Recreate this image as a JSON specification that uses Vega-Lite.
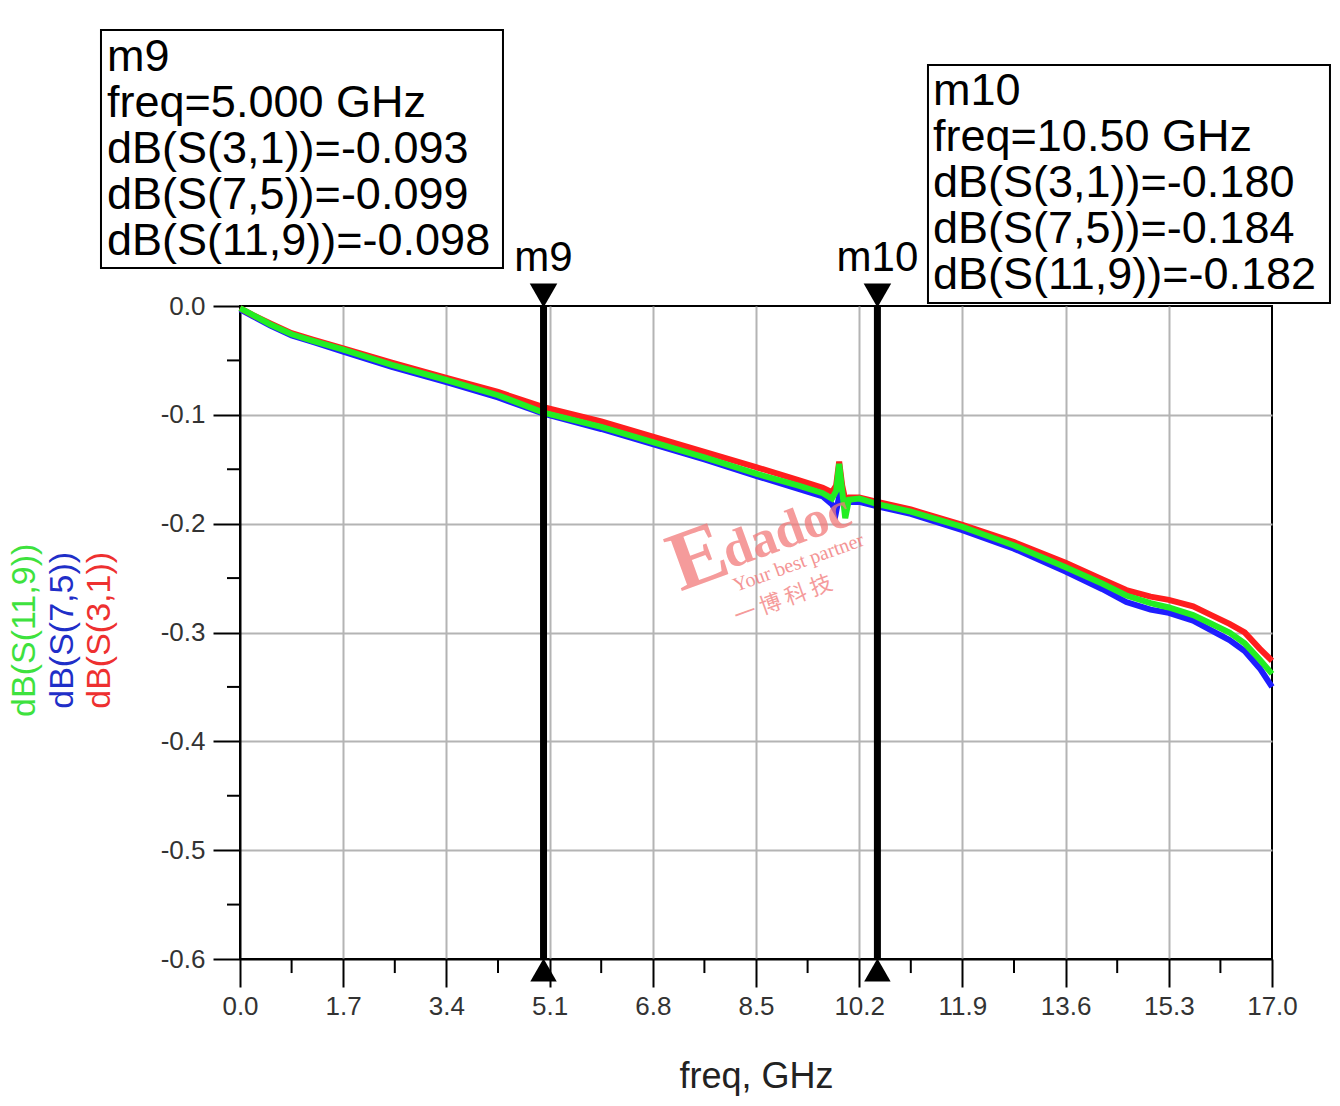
{
  "$schema": "https://vega.github.io/schema/vega-lite/v6.json",
  "description": "dB(S(3,1)), dB(S(7,5)), dB(S(11,9)) against freq, with markers m9 and m10",
  "autosize": "none",
  "width": 1032,
  "height": 653,
  "padding": {"left": 240, "top": 306, "right": 68, "bottom": 147},
  "background": "white",
  "config": {
    "font": "Liberation Sans",
    "view": {"stroke": "black", "strokeWidth": 2}
  },
  "datasets": {
    "traces": [
      {"freq": 0, "s31": -0.002, "s75": -0.003, "s119": -0.002},
      {"freq": 0.2, "s31": -0.008, "s75": -0.009, "s119": -0.008},
      {"freq": 0.5, "s31": -0.016, "s75": -0.018, "s119": -0.017},
      {"freq": 0.85, "s31": -0.025, "s75": -0.027, "s119": -0.026},
      {"freq": 1.2, "s31": -0.031, "s75": -0.033, "s119": -0.032},
      {"freq": 1.7, "s31": -0.039, "s75": -0.042, "s119": -0.040},
      {"freq": 2.5, "s31": -0.052, "s75": -0.056, "s119": -0.054},
      {"freq": 3.4, "s31": -0.066, "s75": -0.070, "s119": -0.068},
      {"freq": 4.25, "s31": -0.079, "s75": -0.084, "s119": -0.082},
      {"freq": 5.0, "s31": -0.093, "s75": -0.099, "s119": -0.098},
      {"freq": 5.95, "s31": -0.106, "s75": -0.113, "s119": -0.111},
      {"freq": 6.8, "s31": -0.120, "s75": -0.127, "s119": -0.125},
      {"freq": 7.65, "s31": -0.134, "s75": -0.141, "s119": -0.139},
      {"freq": 8.5, "s31": -0.148, "s75": -0.156, "s119": -0.154},
      {"freq": 9.2, "s31": -0.160, "s75": -0.168, "s119": -0.165},
      {"freq": 9.6, "s31": -0.167, "s75": -0.175, "s119": -0.172},
      {"freq": 9.75, "s31": -0.171, "s75": -0.182, "s119": -0.177},
      {"freq": 9.82, "s31": -0.165, "s75": -0.189, "s119": -0.170},
      {"freq": 9.87, "s31": -0.143, "s75": -0.175, "s119": -0.145},
      {"freq": 9.92, "s31": -0.165, "s75": -0.180, "s119": -0.170},
      {"freq": 9.97, "s31": -0.178, "s75": -0.182, "s119": -0.195},
      {"freq": 10.03, "s31": -0.176, "s75": -0.180, "s119": -0.178},
      {"freq": 10.2, "s31": -0.176, "s75": -0.180, "s119": -0.177},
      {"freq": 10.5, "s31": -0.180, "s75": -0.184, "s119": -0.182},
      {"freq": 11.05, "s31": -0.187, "s75": -0.191, "s119": -0.189},
      {"freq": 11.9, "s31": -0.201, "s75": -0.206, "s119": -0.203},
      {"freq": 12.75, "s31": -0.217, "s75": -0.223, "s119": -0.220},
      {"freq": 13.6, "s31": -0.236, "s75": -0.244, "s119": -0.240},
      {"freq": 14.2, "s31": -0.251, "s75": -0.260, "s119": -0.255},
      {"freq": 14.6, "s31": -0.261, "s75": -0.272, "s119": -0.266},
      {"freq": 15.0, "s31": -0.267, "s75": -0.279, "s119": -0.273},
      {"freq": 15.3, "s31": -0.270, "s75": -0.282, "s119": -0.277},
      {"freq": 15.7, "s31": -0.276, "s75": -0.289, "s119": -0.284},
      {"freq": 16.0, "s31": -0.284, "s75": -0.298, "s119": -0.292},
      {"freq": 16.3, "s31": -0.292, "s75": -0.307, "s119": -0.300},
      {"freq": 16.55, "s31": -0.300, "s75": -0.317, "s119": -0.310},
      {"freq": 16.8, "s31": -0.315, "s75": -0.333, "s119": -0.325},
      {"freq": 17.0, "s31": -0.326, "s75": -0.350, "s119": -0.338}
    ],
    "markers": [
      {"freq": 5.0, "name": "m9"},
      {"freq": 10.5, "name": "m10"}
    ],
    "minorX": [
      {"freq": 0.85}, {"freq": 2.55}, {"freq": 4.25}, {"freq": 5.95}, {"freq": 7.65},
      {"freq": 9.35}, {"freq": 11.05}, {"freq": 12.75}, {"freq": 14.45}, {"freq": 16.15}
    ],
    "minorY": [
      {"value": -0.05}, {"value": -0.15}, {"value": -0.25},
      {"value": -0.35}, {"value": -0.45}, {"value": -0.55}
    ]
  },
  "layer": [
    {
      "data": {"name": "traces"},
      "transform": [{"fold": ["s75", "s31", "s119"], "as": ["trace", "value"]}],
      "mark": {"type": "line", "strokeWidth": 6},
      "encoding": {
        "x": {
          "field": "freq",
          "type": "quantitative",
          "scale": {"domain": [0, 17], "nice": false, "zero": false},
          "axis": {
            "values": [0, 1.7, 3.4, 5.1, 6.8, 8.5, 10.2, 11.9, 13.6, 15.3, 17.0],
            "format": ".1f",
            "labelOverlap": false,
            "labelFontSize": 26,
            "labelColor": "#333333",
            "labelPadding": 6,
            "labelFlush": false,
            "tickColor": "black",
            "tickWidth": 2,
            "tickSize": 28,
            "domainColor": "black",
            "domainWidth": 2,
            "grid": true,
            "gridColor": "#b4b4b4",
            "gridWidth": 2,
            "gridOpacity": {"condition": {"test": "datum.value >= 16.99 || datum.value == 0", "value": 0}, "value": 1},
            "title": "freq, GHz",
            "titleFontSize": 36,
            "titleFontWeight": "normal",
            "titleColor": "#222222",
            "titlePadding": 40
          }
        },
        "y": {
          "field": "value",
          "type": "quantitative",
          "scale": {"domain": [-0.6, 0], "nice": false, "zero": false},
          "axis": {
            "values": [0, -0.1, -0.2, -0.3, -0.4, -0.5, -0.6],
            "labelExpr": "(datum.value < -0.001 ? '-' : '') + format(abs(datum.value), '.1f')",
            "labelOverlap": false,
            "labelFontSize": 26,
            "labelColor": "#333333",
            "labelPadding": 8,
            "labelFlush": false,
            "tickColor": "black",
            "tickWidth": 2,
            "tickSize": 27,
            "domainColor": "black",
            "domainWidth": 2,
            "grid": true,
            "gridColor": "#b4b4b4",
            "gridWidth": 2,
            "gridOpacity": {"condition": {"test": "datum.value == 0 || datum.value <= -0.599", "value": 0}, "value": 1},
            "title": null
          }
        },
        "color": {
          "field": "trace",
          "type": "nominal",
          "scale": {"domain": ["s31", "s75", "s119"], "range": ["#ff1e1e", "#1e1eff", "#22ee22"]},
          "legend": null
        }
      }
    },
    {
      "data": {"name": "minorX"},
      "mark": {"type": "rule", "color": "black", "strokeWidth": 2},
      "encoding": {
        "x": {"field": "freq", "type": "quantitative"},
        "y": {"datum": -0.6},
        "y2": {"datum": -0.6129}
      }
    },
    {
      "data": {"name": "minorY"},
      "mark": {"type": "rule", "color": "black", "strokeWidth": 2},
      "encoding": {
        "y": {"field": "value", "type": "quantitative"},
        "x": {"datum": 0},
        "x2": {"datum": -0.214}
      }
    },
    {
      "data": {"values": [{}]},
      "mark": {"type": "text", "text": "E", "font": "Liberation Serif", "fontWeight": "bold", "fontSize": 84, "color": "#f27a7a", "opacity": 0.75, "angle": 340, "align": "center", "baseline": "middle"},
      "encoding": {"x": {"datum": 7.55}, "y": {"datum": -0.232}}
    },
    {
      "data": {"values": [{}]},
      "mark": {"type": "text", "text": "dadoc", "font": "Liberation Serif", "fontWeight": "bold", "fontSize": 52, "color": "#f27a7a", "opacity": 0.75, "angle": 340, "align": "center", "baseline": "middle"},
      "encoding": {"x": {"datum": 9.0}, "y": {"datum": -0.207}}
    },
    {
      "data": {"values": [{}]},
      "mark": {"type": "text", "text": "Your best partner", "font": "Liberation Serif", "fontSize": 20, "color": "#f27a7a", "opacity": 0.8, "angle": 340, "align": "center", "baseline": "middle"},
      "encoding": {"x": {"datum": 9.2}, "y": {"datum": -0.236}}
    },
    {
      "data": {"values": [{}]},
      "mark": {"type": "text", "text": "一    博    科    技", "font": "Noto Sans CJK SC", "fontSize": 22, "color": "#f27a7a", "opacity": 0.75, "angle": 340, "align": "center", "baseline": "middle"},
      "encoding": {"x": {"datum": 8.95}, "y": {"datum": -0.27}}
    },
    {
      "data": {"name": "markers"},
      "mark": {"type": "rule", "color": "black", "strokeWidth": 7},
      "encoding": {
        "x": {"field": "freq", "type": "quantitative"},
        "y": {"datum": -0.6},
        "y2": {"datum": 0}
      }
    },
    {
      "data": {"name": "markers"},
      "mark": {"type": "point", "shape": "triangle-down", "filled": true, "color": "black", "opacity": 1, "size": 760},
      "encoding": {
        "x": {"field": "freq", "type": "quantitative"},
        "y": {"datum": 0.0096}
      }
    },
    {
      "data": {"name": "markers"},
      "mark": {"type": "point", "shape": "triangle-up", "filled": true, "color": "black", "opacity": 1, "size": 700},
      "encoding": {
        "x": {"field": "freq", "type": "quantitative"},
        "y": {"datum": -0.6101}
      }
    },
    {
      "data": {"name": "markers"},
      "mark": {"type": "text", "fontSize": 42, "color": "black", "align": "center", "baseline": "middle"},
      "encoding": {
        "x": {"field": "freq", "type": "quantitative"},
        "y": {"datum": 0.0441},
        "text": {"field": "name"}
      }
    },
    {
      "data": {"values": [{}]},
      "mark": {"type": "rect", "fill": "white", "stroke": "black", "strokeWidth": 2},
      "encoding": {
        "x": {"datum": -2.29},
        "x2": {"datum": 4.332},
        "y": {"datum": 0.2536},
        "y2": {"datum": 0.0349}
      }
    },
    {
      "data": {"values": [{}]},
      "mark": {"type": "text", "text": "m9\nfreq=5.000 GHz\ndB(S(3,1))=-0.093\ndB(S(7,5))=-0.099\ndB(S(11,9))=-0.098", "lineBreak": "\n", "lineHeight": 46, "fontSize": 45, "color": "black", "align": "left", "baseline": "alphabetic"},
      "encoding": {"x": {"datum": -2.19}, "y": {"datum": 0.2159}}
    },
    {
      "data": {"values": [{}]},
      "mark": {"type": "rect", "fill": "white", "stroke": "black", "strokeWidth": 2},
      "encoding": {
        "x": {"datum": 11.333},
        "x2": {"datum": 17.955},
        "y": {"datum": 0.2214},
        "y2": {"datum": 0.0028}
      }
    },
    {
      "data": {"values": [{}]},
      "mark": {"type": "text", "text": "m10\nfreq=10.50 GHz\ndB(S(3,1))=-0.180\ndB(S(7,5))=-0.184\ndB(S(11,9))=-0.182", "lineBreak": "\n", "lineHeight": 46, "fontSize": 45, "color": "black", "align": "left", "baseline": "alphabetic"},
      "encoding": {"x": {"datum": 11.416}, "y": {"datum": 0.1847}}
    },
    {
      "data": {"values": [{}]},
      "mark": {"type": "text", "text": "dB(S(11,9))", "fontSize": 34, "color": "#3ee23e", "angle": 270, "align": "center", "baseline": "middle"},
      "encoding": {"x": {"datum": -3.54}, "y": {"datum": -0.298}}
    },
    {
      "data": {"values": [{}]},
      "mark": {"type": "text", "text": "dB(S(7,5))", "fontSize": 34, "color": "#1f2fc8", "angle": 270, "align": "center", "baseline": "middle"},
      "encoding": {"x": {"datum": -2.92}, "y": {"datum": -0.298}}
    },
    {
      "data": {"values": [{}]},
      "mark": {"type": "text", "text": "dB(S(3,1))", "fontSize": 34, "color": "#ee3030", "angle": 270, "align": "center", "baseline": "middle"},
      "encoding": {"x": {"datum": -2.31}, "y": {"datum": -0.298}}
    }
  ]
}
